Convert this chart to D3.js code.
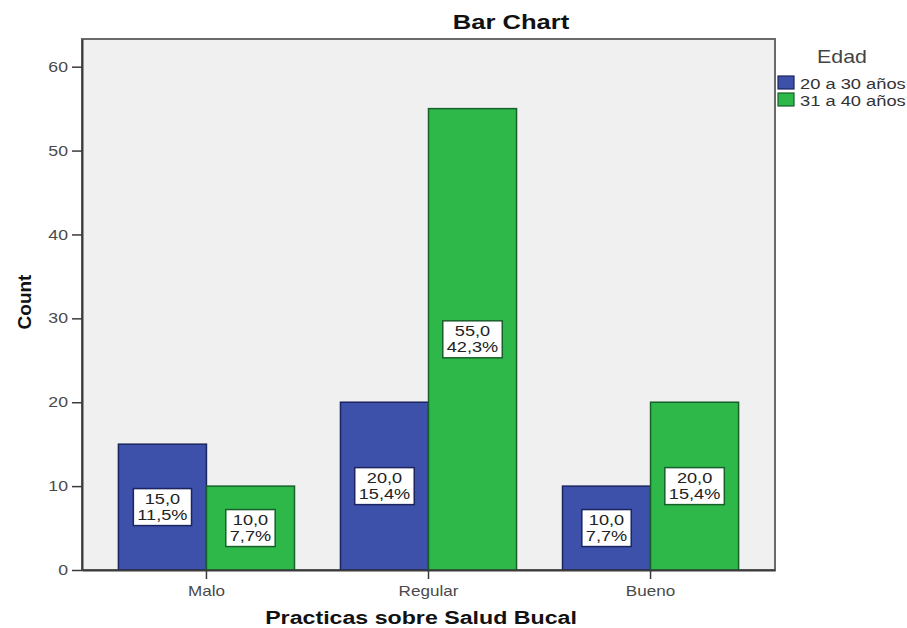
<!DOCTYPE html>
<html>
<head>
<meta charset="utf-8">
<script src="https://cdn.jsdelivr.net/npm/d3@7"></script>
<style>
  html, body { margin: 0; padding: 0; background: #ffffff; }
  svg { display: block; }
</style>
</head>
<body>
<svg id="chart" width="907" height="628"></svg>
<script>
// Counts by oral-health practice level, split by age group
const categories = ["Malo", "Regular", "Bueno"];
const seriesNames = ["20 a 30 años", "31 a 40 años"];
const youngCounts = [15, 20, 10];
const olderCounts = [10, 55, 20];
const yTicks = [0, 10, 20, 30, 40, 50, 60];

const chartTitle = "Bar Chart";
const xTitle = "Practicas sobre Salud Bucal";
const yTitle = "Count";
const legendTitle = "Edad";

const seriesValues = [youngCounts, olderCounts];
const total = d3.sum(youngCounts) + d3.sum(olderCounts);

const colors = ["#3d50aa", "#2fb84a"];
const outlines = ["#1c2560", "#17602a"];
const FONT = "'Liberation Sans', Arial, sans-serif";
const SX = 1.22; // horizontal stretch applied to all text

const svg = d3.select("#chart");

const plot = { left: 82, top: 39, right: 775, bottom: 570 };

const x0 = d3.scaleBand()
  .domain(categories)
  .range([plot.left, plot.right])
  .paddingInner(0.207)
  .paddingOuter(0.164);

const x1 = d3.scaleBand()
  .domain(d3.range(seriesNames.length))
  .range([0, x0.bandwidth()])
  .padding(0);

const y = d3.scaleLinear()
  .domain([0, 63.3])
  .range([plot.bottom, plot.top]);

// horizontally stretched text anchored at (x, y)
function sText(parent, x, y, str, opt) {
  const g = parent.append("g")
    .attr("transform", `translate(${x},${y}) scale(${opt.sx || SX},1)`);
  return g.append("text")
    .attr("text-anchor", opt.anchor || "middle")
    .attr("font-family", FONT)
    .attr("font-size", opt.size)
    .attr("font-weight", opt.weight || "normal")
    .attr("fill", opt.fill || "#222")
    .text(str);
}

// plot background and frame
svg.append("rect")
  .attr("x", plot.left).attr("y", plot.top)
  .attr("width", plot.right - plot.left)
  .attr("height", plot.bottom - plot.top)
  .attr("fill", "#f0f0f0")
  .attr("stroke", "#6a6a6a")
  .attr("stroke-width", 2);

// bars
const rows = [];
categories.forEach((c, i) => {
  seriesValues.forEach((vals, s) => {
    rows.push({ cat: c, s: s, v: vals[i] });
  });
});

svg.append("g").selectAll("rect")
  .data(rows)
  .join("rect")
  .attr("x", d => x0(d.cat) + x1(d.s))
  .attr("y", d => y(d.v))
  .attr("width", x1.bandwidth())
  .attr("height", d => y(0) - y(d.v))
  .attr("fill", d => colors[d.s])
  .attr("stroke", d => outlines[d.s])
  .attr("stroke-width", 1.5);

// axes
const fmtNum = v => v.toFixed(1).replace(".", ",");

const yAxis = svg.append("g")
  .attr("transform", `translate(${plot.left},0)`)
  .call(d3.axisLeft(y).tickValues(yTicks).tickSize(10).tickSizeOuter(0)
    .tickPadding(4).tickFormat(d3.format("d")));
yAxis.select(".domain").attr("stroke", "#3a3a3a").attr("stroke-width", 2);
yAxis.selectAll(".tick line").attr("stroke", "#3a3a3a").attr("stroke-width", 1.5);
yAxis.selectAll(".tick text")
  .attr("font-family", FONT).attr("font-size", 14.5).attr("fill", "#4a4a4a")
  .attr("x", -14 / SX)
  .attr("transform", `scale(${SX},1)`);

const xAxis = svg.append("g")
  .attr("transform", `translate(0,${plot.bottom})`)
  .call(d3.axisBottom(x0).tickSize(9).tickSizeOuter(0).tickPadding(7));
xAxis.select(".domain").attr("stroke", "#3a3a3a").attr("stroke-width", 2);
xAxis.selectAll(".tick line").attr("stroke", "#3a3a3a").attr("stroke-width", 1.5);
xAxis.selectAll(".tick text")
  .attr("font-family", FONT).attr("font-size", 14).attr("fill", "#4a4a4a")
  .attr("transform", `scale(${SX},1)`);

// value labels: count and percentage of total, boxed at bar middle
const labels = svg.append("g");
rows.forEach(d => {
  const cx = x0(d.cat) + x1(d.s) + x1.bandwidth() / 2;
  const cy = (y(d.v) + y(0)) / 2;
  const g = labels.append("g");
  const box = g.append("rect");
  const lines = [fmtNum(d.v), fmtNum(d.v / total * 100) + "%"];
  let maxW = 0;
  lines.forEach((str, k) => {
    const t = sText(g, cx, cy + (k === 0 ? -3.5 : 12.5), str,
      { size: 14.2, sx: 1.28, fill: "#222" });
    maxW = Math.max(maxW, t.node().getBBox().width * 1.28);
  });
  const w = maxW + 8;
  const h = 37;
  box.attr("x", cx - w / 2).attr("y", cy - h / 2)
    .attr("width", w).attr("height", h)
    .attr("fill", "#ffffff")
    .attr("stroke", outlines[d.s])
    .attr("stroke-width", 1.5);
});

// titles
sText(svg, 511, 29, chartTitle, { size: 21, weight: "bold", fill: "#111" });
sText(svg, 421, 624, xTitle, { size: 19, weight: "bold", fill: "#111" });
svg.append("text")
  .attr("transform", "translate(31,302) rotate(-90)")
  .attr("text-anchor", "middle")
  .attr("font-family", FONT)
  .attr("font-size", 19)
  .attr("font-weight", "bold")
  .attr("fill", "#111")
  .text(yTitle);

// legend
const legend = svg.append("g");
sText(legend, 842, 63, legendTitle, { size: 17.5, fill: "#444" });
seriesNames.forEach((name, i) => {
  const top = 76 + i * 17;
  legend.append("rect")
    .attr("x", 778).attr("y", top)
    .attr("width", 16).attr("height", 13)
    .attr("fill", colors[i])
    .attr("stroke", outlines[i])
    .attr("stroke-width", 1.2);
  sText(legend, 800, top + 13, name, { size: 15, fill: "#333", anchor: "start" });
});
</script>
</body>
</html>
